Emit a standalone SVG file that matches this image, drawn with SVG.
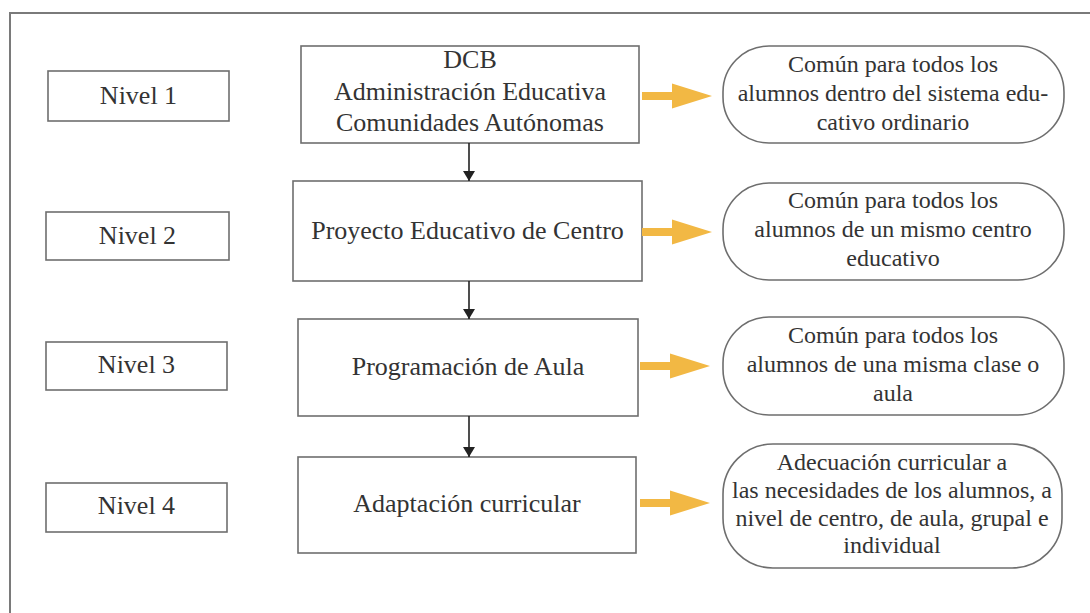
<svg xmlns="http://www.w3.org/2000/svg" width="1090" height="613" viewBox="0 0 1090 613" font-family="Liberation Serif, serif">
<style>
  .frame{fill:none;stroke:#7a7a7a;stroke-width:2}
  .box{fill:#fff;stroke:#6e6e6e;stroke-width:1.6}
  .t{fill:#333;text-anchor:middle}
  .big{font-size:26px}
  .sm{font-size:24px}
  .dn{stroke:#222;stroke-width:1.6;fill:none}
  .ya{fill:#F2B844}
</style>
<defs>
  <marker id="ah" viewBox="0 0 10 16" refX="10" refY="8" markerWidth="10" markerHeight="16" markerUnits="userSpaceOnUse" orient="auto">
    <path d="M0,2 L10,8 L0,14 Z" fill="#222"/>
  </marker>
  <polygon id="yarr" points="0,-4 30,-4 30,-12.5 70,0 30,12.5 30,4 0,4"/>
</defs>
<rect class="frame" x="10" y="13" width="1100" height="640"/>

<g id="nivel1"><rect class="box" x="48" y="71" width="181" height="50"/><text class="t big" x="138.5" y="104" font-family="Liberation Serif, serif">Nivel 1</text></g>
<g id="nivel2"><rect class="box" x="46" y="212" width="183" height="48"/><text class="t big" x="137.5" y="244" style="font-family:'Liberation Serif',serif">Nivel 2</text></g>
<g id="nivel3"><rect class="box" x="46" y="342" width="181" height="48"/><text class="t big" x="136.5" y="373">Nivel 3</text></g>
<g id="nivel4"><rect class="box" x="46" y="483" width="181" height="49"/><text class="t big" x="136.5" y="514">Nivel 4</text></g>

<g id="dcb"><rect class="box" x="301" y="46" width="338" height="97"/>
  <text class="t big" x="470" y="68">DCB</text>
  <text class="t big" x="470" y="100">Administración Educativa</text>
  <text class="t big" x="470" y="131">Comunidades Autónomas</text></g>
<g id="pec"><rect class="box" x="293" y="181" width="349" height="100"/><text class="t big" x="467.5" y="239">Proyecto Educativo de Centro</text></g>
<g id="pa"><rect class="box" x="298" y="319" width="340" height="97"/><text class="t big" x="468" y="375">Programación de Aula</text></g>
<g id="ac"><rect class="box" x="298" y="457" width="338" height="96"/><text class="t big" x="467" y="512">Adaptación curricular</text></g>

<g id="r1"><rect class="box" x="723" y="46" width="341" height="97" rx="46" ry="46"/>
  <text class="t sm" x="893" y="72">Común para todos los</text>
  <text class="t sm" x="893" y="101">alumnos dentro del sistema edu-</text>
  <text class="t sm" x="893" y="130">cativo ordinario</text></g>
<g id="r2"><rect class="box" x="723" y="183" width="341" height="97" rx="46" ry="46"/>
  <text class="t sm" x="893" y="208">Común para todos los</text>
  <text class="t sm" x="893" y="237">alumnos de un mismo centro</text>
  <text class="t sm" x="893" y="266">educativo</text></g>
<g id="r3"><rect class="box" x="723" y="317" width="341" height="98" rx="46" ry="46"/>
  <text class="t sm" x="893" y="343">Común para todos los</text>
  <text class="t sm" x="893" y="372">alumnos de una misma clase o</text>
  <text class="t sm" x="893" y="401">aula</text></g>
<g id="r4"><rect class="box" x="723" y="444" width="339" height="124" rx="50" ry="50"/>
  <text class="t sm" x="892" y="470">Adecuación curricular a</text>
  <text class="t sm" x="892" y="498">las necesidades de los alumnos, a</text>
  <text class="t sm" x="892" y="526">nivel de centro, de aula, grupal e</text>
  <text class="t sm" x="892" y="553">individual</text></g>

<g id="connectors">
  <line class="dn" x1="469" y1="143" x2="469" y2="181" marker-end="url(#ah)"/>
  <line class="dn" x1="469" y1="281" x2="469" y2="319" marker-end="url(#ah)"/>
  <line class="dn" x1="469" y1="416" x2="469" y2="457" marker-end="url(#ah)"/>
  <use href="#yarr" class="ya" x="642" y="96"/>
  <use href="#yarr" class="ya" x="642" y="232"/>
  <use href="#yarr" class="ya" x="640" y="366"/>
  <use href="#yarr" class="ya" x="640" y="503"/>
</g>
</svg>
